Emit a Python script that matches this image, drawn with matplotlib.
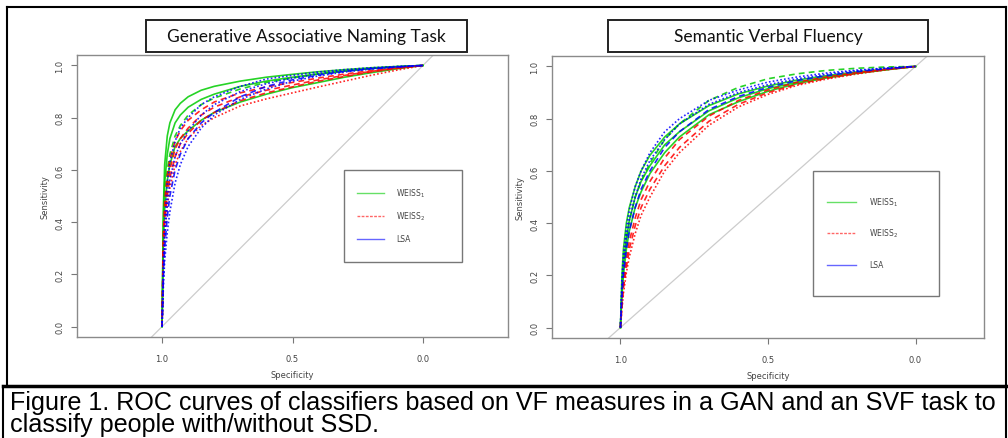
import matplotlib
matplotlib.use("Agg")
import matplotlib.pyplot as plt
from matplotlib import font_manager
from matplotlib.patches import Rectangle
from matplotlib.lines import Line2D

# specificity grid shared by all curves
spec = [1.0, 0.995, 0.99, 0.98, 0.97, 0.95, 0.93, 0.9, 0.85, 0.8,
        0.7, 0.6, 0.5, 0.4, 0.3, 0.2, 0.1, 0.0]

# --- Generative Associative Naming task (sensitivity at each spec) ---
gan_weiss1 = [
    [0, 0.45, 0.62, 0.73, 0.78, 0.83, 0.855, 0.88, 0.905, 0.92, 0.94, 0.955, 0.966, 0.976, 0.984, 0.991, 0.996, 1.0],
    [0, 0.40, 0.55, 0.66, 0.72, 0.78, 0.81, 0.84, 0.87, 0.89, 0.92, 0.94, 0.955, 0.968, 0.979, 0.988, 0.995, 1.0],
    [0, 0.35, 0.50, 0.60, 0.66, 0.73, 0.77, 0.81, 0.85, 0.875, 0.91, 0.935, 0.952, 0.967, 0.978, 0.988, 0.995, 1.0],
    [0, 0.32, 0.45, 0.56, 0.62, 0.69, 0.72, 0.75, 0.79, 0.82, 0.86, 0.89, 0.915, 0.935, 0.955, 0.972, 0.987, 1.0],
]
gan_weiss1_ls = ["-", "-", "--", "-"]
gan_weiss2 = [
    [0, 0.35, 0.48, 0.58, 0.64, 0.71, 0.75, 0.79, 0.83, 0.86, 0.895, 0.918, 0.935, 0.952, 0.967, 0.98, 0.991, 1.0],
    [0, 0.30, 0.42, 0.53, 0.60, 0.68, 0.72, 0.76, 0.81, 0.84, 0.88, 0.905, 0.925, 0.945, 0.962, 0.977, 0.99, 1.0],
    [0, 0.28, 0.40, 0.50, 0.57, 0.65, 0.70, 0.74, 0.79, 0.82, 0.865, 0.895, 0.918, 0.94, 0.958, 0.975, 0.989, 1.0],
    [0, 0.25, 0.36, 0.46, 0.53, 0.62, 0.67, 0.72, 0.77, 0.80, 0.845, 0.872, 0.895, 0.918, 0.94, 0.962, 0.982, 1.0],
]
gan_weiss2_ls = ["--", "--", "--", ":"]
gan_lsa = [
    [0, 0.25, 0.40, 0.55, 0.63, 0.71, 0.76, 0.80, 0.85, 0.88, 0.92, 0.948, 0.962, 0.975, 0.984, 0.991, 0.996, 1.0],
    [0, 0.20, 0.33, 0.47, 0.56, 0.65, 0.70, 0.75, 0.81, 0.85, 0.90, 0.93, 0.952, 0.968, 0.98, 0.989, 0.995, 1.0],
    [0, 0.18, 0.30, 0.42, 0.50, 0.60, 0.66, 0.72, 0.78, 0.82, 0.88, 0.92, 0.945, 0.963, 0.977, 0.987, 0.994, 1.0],
    [0, 0.15, 0.25, 0.36, 0.44, 0.55, 0.62, 0.69, 0.76, 0.81, 0.87, 0.91, 0.94, 0.96, 0.975, 0.986, 0.994, 1.0],
]
gan_lsa_ls = [":", ":", "--", ":"]

# --- Semantic Verbal Fluency task ---
svf_weiss1 = [
    [0, 0.20, 0.30, 0.40, 0.46, 0.54, 0.60, 0.66, 0.73, 0.78, 0.85, 0.895, 0.925, 0.948, 0.965, 0.979, 0.99, 1.0],
    [0, 0.15, 0.24, 0.34, 0.41, 0.50, 0.56, 0.63, 0.72, 0.78, 0.87, 0.92, 0.953, 0.972, 0.985, 0.993, 0.998, 1.0],
    [0, 0.15, 0.24, 0.34, 0.41, 0.50, 0.56, 0.62, 0.70, 0.75, 0.83, 0.88, 0.915, 0.94, 0.96, 0.975, 0.988, 1.0],
    [0, 0.12, 0.20, 0.30, 0.37, 0.46, 0.52, 0.59, 0.67, 0.73, 0.815, 0.865, 0.905, 0.935, 0.956, 0.973, 0.987, 1.0],
]
svf_weiss1_ls = ["-", "--", "-", "-"]
svf_weiss2 = [
    [0, 0.10, 0.17, 0.26, 0.33, 0.42, 0.49, 0.56, 0.65, 0.72, 0.81, 0.87, 0.91, 0.94, 0.96, 0.976, 0.989, 1.0],
    [0, 0.08, 0.15, 0.23, 0.30, 0.39, 0.46, 0.53, 0.62, 0.69, 0.79, 0.855, 0.90, 0.932, 0.955, 0.973, 0.988, 1.0],
    [0, 0.07, 0.13, 0.21, 0.27, 0.36, 0.43, 0.50, 0.60, 0.67, 0.775, 0.845, 0.893, 0.928, 0.952, 0.971, 0.987, 1.0],
]
svf_weiss2_ls = ["--", "--", ":"]
svf_lsa = [
    [0, 0.18, 0.28, 0.38, 0.45, 0.54, 0.60, 0.67, 0.75, 0.80, 0.87, 0.91, 0.94, 0.96, 0.975, 0.986, 0.994, 1.0],
    [0, 0.15, 0.24, 0.34, 0.41, 0.50, 0.57, 0.64, 0.72, 0.78, 0.855, 0.90, 0.93, 0.953, 0.97, 0.983, 0.993, 1.0],
    [0, 0.12, 0.20, 0.30, 0.37, 0.46, 0.53, 0.60, 0.69, 0.75, 0.835, 0.885, 0.92, 0.946, 0.965, 0.98, 0.991, 1.0],
]
svf_lsa_ls = [":", ":", "--"]

titles = ["Generative Associative Naming Task", "Semantic Verbal Fluency"]
legend_labels = ["WEISS1", "WEISS2", "LSA"]
yticks = [0.0, 0.2, 0.4, 0.6, 0.8, 1.0]
xticks = [1.0, 0.5, 0.0]
caption = ["Figure 1. ROC curves of classifiers based on VF measures in a GAN and an SVF task to",
           "classify people with/without SSD."]

GREEN, RED, BLUE = "#00cc00", "#ff0000", "#0000ff"
W, H = 1008, 439
DASH = {":": (1, 1.3), "--": (3.5, 2.5)}

installed = {f.name for f in font_manager.fontManager.ttflist}
cap_font = "Liberation Sans" if "Liberation Sans" in installed else "DejaVu Sans"
title_font = "Lato" if "Lato" in installed else "DejaVu Sans"

fig = plt.figure(figsize=(W / 100, H / 100), dpi=100)


def fx(px):
    return px / W


def fy(py):
    return 1 - py / H


def roc_panel(rect, xlim, groups, legend_rect, legend_rows, legend_x):
    ax = fig.add_axes(rect)
    # chance line
    ax.plot([1.1, -0.1], [-0.1, 1.1], color="#cccccc", lw=0.9, zorder=1)
    for curves, styles, col in groups:
        for sens, ls in zip(curves, styles):
            line, = ax.plot(spec, sens, color=col, lw=1.2, alpha=0.85, zorder=2)
            if ls in DASH:
                line.set_dashes(DASH[ls])
    ax.set_xlim(*xlim)
    ax.set_ylim(-0.04, 1.04)
    ax.set_xticks(xticks)
    ax.set_xticklabels([f"{v:.1f}" for v in xticks])
    ax.set_yticks(yticks)
    ax.set_yticklabels([f"{v:.1f}" for v in yticks], rotation=90, va="center")
    ax.tick_params(axis="y", length=4, width=0.8, color="#777777", labelsize=6,
                   labelcolor="#444444", pad=5)
    ax.tick_params(axis="x", length=4, width=0.8, color="#777777", labelsize=6,
                   labelcolor="#444444", pad=8)
    for s in ax.spines.values():
        s.set_color("#8a8a8a")
        s.set_linewidth(1.0)
    ax.set_xlabel("Specificity", fontsize=6, color="#444444", labelpad=5)
    ax.set_ylabel("Sensitivity", fontsize=6, color="#444444", labelpad=4)

    # legend drawn R-style
    lx0, ly0, lx1, ly1 = legend_rect
    fig.add_artist(Rectangle((fx(lx0), fy(ly1)), fx(lx1 - lx0), (ly1 - ly0) / H,
                             fill=False, ec="#777777", lw=1.0))
    hx0, hx1, tx = legend_x
    for (col, ls), ypx, lab in zip([(GREEN, "-"), (RED, "--"), (BLUE, "-")],
                                   legend_rows, legend_labels):
        ln = Line2D([fx(hx0), fx(hx1)], [fy(ypx), fy(ypx)], color=col, lw=1.0,
                    alpha=0.6)
        if ls == "--":
            ln.set_dashes((2, 1))
        fig.add_artist(ln)
        txt = lab[:-1] + r"$_{\mathrm{" + lab[-1] + "}}$" if lab[-1].isdigit() else lab
        fig.text(fx(tx), fy(ypx), txt, fontsize=5.5, color="#444444",
                 va="center", ha="left")
    return ax


roc_panel([fx(77), fy(338), fx(508 - 77), (338 - 56) / H], (1.326, -0.326),
          [(gan_weiss1, gan_weiss1_ls, GREEN), (gan_weiss2, gan_weiss2_ls, RED),
           (gan_lsa, gan_lsa_ls, BLUE)],
          (344, 171, 462, 263), (194, 217, 240), (357, 384, 396))
roc_panel([fx(552), fy(339), fx(984 - 552), (339 - 57) / H], (1.232, -0.232),
          [(svf_weiss1, svf_weiss1_ls, GREEN), (svf_weiss2, svf_weiss2_ls, RED),
           (svf_lsa, svf_lsa_ls, BLUE)],
          (813, 172, 939, 297), (203, 234, 266), (827, 856, 869))

# title boxes
for title, (bx0, bx1) in zip(titles, [(146, 467), (608, 928)]):
    fig.add_artist(Rectangle((fx(bx0), fy(53)), fx(bx1 - bx0), 32 / H,
                             fill=False, ec="#222222", lw=1.4))
    fig.text(fx((bx0 + bx1) / 2), fy(37), title, family=title_font,
             fontsize=12.5, ha="center", va="center", color="#111111")

# document table borders
for xs, ys, lw in [([7, 1006], [8, 8], 1.5), ([7, 7], [8, 387], 1.5),
                   ([3, 1006], [387, 387], 2.5), ([3, 3], [387, 439], 1.5),
                   ([1006, 1006], [8, 439], 1.5)]:
    fig.add_artist(Line2D([fx(x) for x in xs], [fy(y) for y in ys],
                          color="black", lw=lw))

# caption lines, first one fitted to the row width
t1 = fig.text(fx(10), fy(410), caption[0], family=cap_font, fontsize=14,
              ha="left", va="baseline", color="black")
t2 = fig.text(fx(10), fy(432), caption[1], family=cap_font, fontsize=14,
              ha="left", va="baseline", color="black")
fig.canvas.draw()
wpx = t1.get_window_extent().width
size = 14 * (990 / wpx)
t1.set_fontsize(size)
t2.set_fontsize(size)

fig.savefig("out.png", dpi=100)
